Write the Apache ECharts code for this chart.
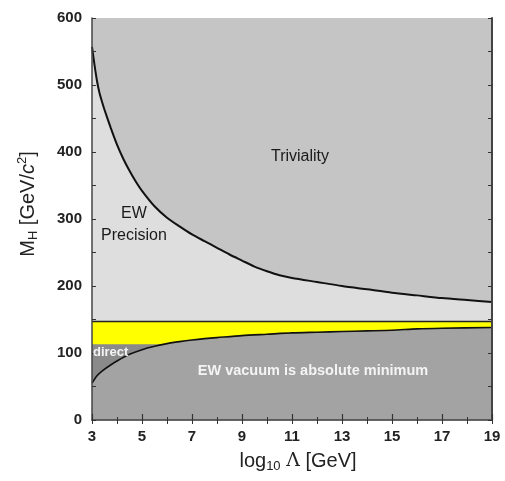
<!DOCTYPE html>
<html>
<head>
<meta charset="utf-8">
<script src="https://cdn.jsdelivr.net/npm/echarts@6/dist/echarts.min.js"></script>
<style>html,body{margin:0;padding:0;background:#fff}#c{width:505px;height:481px}</style>
</head>
<body>
<div id="c"></div>
<script>
// x ticks (log10 Lambda [GeV])
const xTicks = [3, 5, 7, 9, 11, 13, 15, 17, 19];
const yTicks = [0, 100, 200, 300, 400, 500, 600];

// Triviality (upper) bound
const upperX = [3, 3.1, 3.2, 3.3, 3.4, 3.5, 3.75, 4, 4.25, 4.5, 4.75, 5, 5.5, 6, 6.5, 7, 7.5, 8, 8.5, 9, 9.5, 10, 10.5, 11, 12, 13, 14, 15, 16, 17, 18, 19];
const upperY = [557, 530, 506, 488, 475, 463, 436, 411, 390, 372, 356, 342, 319, 302, 289, 277, 267, 257, 247, 238, 229, 222, 216, 212, 206, 200, 195, 190, 186, 182, 179, 176];

// Vacuum stability (lower) bound
const lowerX = [3, 3.2, 3.4, 3.7, 4, 4.5, 5, 5.5, 6, 6.5, 7, 7.5, 8, 9, 10, 11, 12, 13, 14, 15, 16, 17, 19];
const lowerY = [55, 66, 73, 81, 88, 98, 105, 110, 114, 117, 119.5, 121.5, 123, 126, 128, 130, 131, 132, 133, 134, 136, 137, 138];

// EW precision upper line (horizontal) and direct search limit
const bandX = [3, 19];
const bandTop = 147;
const directX = [3, 5.8];
const directY = 113;

const zip = (xs, ys) => xs.map((x, i) => [x, Array.isArray(ys) ? ys[i] : ys]);

const chart = echarts.init(document.getElementById('c'));
const FONT = 'Liberation Sans';
const axisColor = '#444';

chart.setOption({
  animation: false,
  backgroundColor: '#fff',
  grid: { left: 92, right: 13, top: 18, bottom: 61, show: true, backgroundColor: '#c5c5c5', borderWidth: 0 },
  xAxis: [
    {
      type: 'value', min: xTicks[0], max: xTicks[xTicks.length - 1], interval: 2, z: 10,
      axisLine: { show: true, lineStyle: { color: axisColor, width: 1.5 } },
      axisTick: { show: true, inside: true, length: 6, lineStyle: { color: '#333', width: 1.2 } },
      minorTick: { show: true, splitNumber: 2, length: 3, lineStyle: { color: '#333', width: 1 } },
      splitLine: { show: false },
      axisLabel: { margin: 9, fontFamily: FONT, fontSize: 15, fontWeight: 'bold', color: '#222' }
    },
    {
      type: 'value', position: 'top', min: xTicks[0], max: xTicks[xTicks.length - 1], interval: 1, z: 10,
      axisLine: { show: true, lineStyle: { color: '#666', width: 1.2 } },
      axisTick: { show: true, inside: true, length: 4, lineStyle: { color: '#333', width: 1 } },
      splitLine: { show: false },
      axisLabel: { show: false }
    }
  ],
  yAxis: [
    {
      type: 'value', min: yTicks[0], max: yTicks[yTicks.length - 1], interval: 100, z: 10,
      axisLine: { show: true, lineStyle: { color: axisColor, width: 1.5 } },
      axisTick: { show: true, inside: true, length: 4, lineStyle: { color: '#333', width: 1 } },
      minorTick: { show: true, splitNumber: 2, length: 4, lineStyle: { color: '#333', width: 1 } },
      splitLine: { show: false },
      axisLabel: { margin: 10, fontFamily: FONT, fontSize: 15, fontWeight: 'bold', color: '#222' }
    },
    {
      type: 'value', position: 'right', min: yTicks[0], max: yTicks[yTicks.length - 1], interval: 50, z: 10,
      axisLine: { show: true, lineStyle: { color: axisColor, width: 2 } },
      axisTick: { show: true, inside: true, length: 4, lineStyle: { color: '#333', width: 1 } },
      splitLine: { show: false },
      axisLabel: { show: false }
    }
  ],
  series: [
    {
      type: 'line', name: 'Triviality', data: zip(upperX, upperY), smooth: 0.25, symbol: 'none', z: 2,
      lineStyle: { color: '#111', width: 2 },
      areaStyle: { color: '#dedede', opacity: 1, origin: 'start' }
    },
    {
      type: 'line', name: 'EW Precision limit', data: zip(bandX, bandTop), symbol: 'none', z: 3,
      lineStyle: { color: '#222', width: 1.3 },
      areaStyle: { color: '#ffff00', opacity: 1, origin: 'start' }
    },
    {
      type: 'line', name: 'direct', data: zip(directX, directY), symbol: 'none', z: 4,
      lineStyle: { width: 0, opacity: 0 },
      areaStyle: { color: '#8a8a8a', opacity: 1, origin: 'start' }
    },
    {
      type: 'line', name: 'Vacuum stability', data: zip(lowerX, lowerY), smooth: 0.25, symbol: 'none', z: 5,
      lineStyle: { color: '#111', width: 1.6 },
      areaStyle: { color: '#a3a3a3', opacity: 1, origin: 'start' }
    }
  ],
  graphic: [
    { type: 'text', x: 300, y: 157, z: 20, style: { text: 'Triviality', font: '16px ' + FONT, fill: '#1a1a1a', align: 'center', verticalAlign: 'middle' } },
    { type: 'text', x: 134, y: 225, z: 20, style: { text: 'EW\nPrecision', font: '16px ' + FONT, lineHeight: 22, fill: '#1a1a1a', align: 'center', verticalAlign: 'middle' } },
    { type: 'text', x: 93, y: 352, z: 20, style: { text: 'direct', font: 'bold 13px ' + FONT, fill: '#f4f4f4', align: 'left', verticalAlign: 'middle' } },
    { type: 'text', x: 313, y: 371, z: 20, style: { text: 'EW vacuum is absolute minimum', font: 'bold 14.5px ' + FONT, fill: '#f4f4f4', align: 'center', verticalAlign: 'middle' } },
    {
      type: 'text', x: 298, y: 461, z: 20,
      style: {
        text: '{a|log}{s|10}{a| }{l|Λ}{a| [GeV]}', align: 'center', verticalAlign: 'middle', fill: '#222',
        rich: {
          a: { fontFamily: FONT, fontSize: 20, lineHeight: 24, fill: '#222' },
          s: { fontFamily: FONT, fontSize: 13, lineHeight: 10, verticalAlign: 'bottom', fill: '#222' },
          l: { fontFamily: 'DejaVu Serif', fontSize: 19, lineHeight: 24, fill: '#222' }
        }
      }
    },
    {
      type: 'text', x: 28, y: 204, z: 20, rotation: Math.PI / 2,
      style: {
        text: '{a|M}{s|H}{a| [GeV/}{i|c}{p|2}{a|]}', align: 'center', verticalAlign: 'middle', fill: '#222',
        rich: {
          a: { fontFamily: FONT, fontSize: 20, lineHeight: 24, fill: '#222' },
          s: { fontFamily: FONT, fontSize: 13, lineHeight: 10, verticalAlign: 'bottom', fill: '#222' },
          i: { fontFamily: FONT, fontSize: 20, fontStyle: 'italic', lineHeight: 24, fill: '#222' },
          p: { fontFamily: FONT, fontSize: 13, lineHeight: 10, verticalAlign: 'top', fill: '#222' }
        }
      }
    }
  ]
});
</script>
</body>
</html>
